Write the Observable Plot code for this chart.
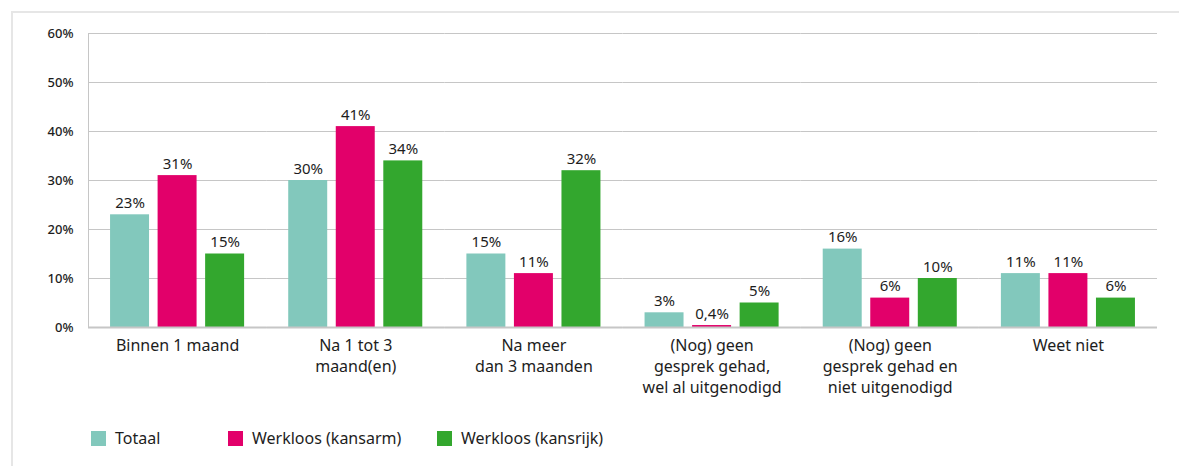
<!DOCTYPE html>
<html>
<head>
<meta charset="utf-8">
<script src="https://cdn.jsdelivr.net/npm/d3@7"></script>
<script src="https://cdn.jsdelivr.net/npm/@observablehq/plot@0.6"></script>
<style>
  html, body { margin: 0; padding: 0; background: #fff; }
  body { width: 1179px; height: 466px; position: relative; overflow: hidden; font-family: "Noto Sans", "Open Sans", sans-serif; color: #1d1d1d; }
  #border { position: absolute; left: 11px; top: 11px; width: 1170px; height: 460px; border-top: 2px solid #e6e6e6; border-left: 2px solid #e6e6e6; box-sizing: border-box; }
  #chart { position: absolute; left: 0; top: 0; }
  #legend { position: absolute; top: 428px; left: 91px; display: flex; font-size: 16px; line-height: 21px; }
  .item { display: flex; align-items: center; }
  .sw { width: 15px; height: 15px; margin-right: 9px; }
</style>
</head>
<body>
<div id="border"></div>
<div id="chart"></div>
<div id="legend"></div>
<script>
const categories = [
  "Binnen 1 maand",
  "Na 1 tot 3\nmaand(en)",
  "Na meer\ndan 3 maanden",
  "(Nog) geen\ngesprek gehad,\nwel al uitgenodigd",
  "(Nog) geen\ngesprek gehad en\nniet uitgenodigd",
  "Weet niet"
];
const series = ["Totaal", "Werkloos (kansarm)", "Werkloos (kansrijk)"];
const totaal   = [23, 30, 15, 3, 16, 11];
const kansarm  = [31, 41, 11, 0.4, 6, 11];
const kansrijk = [15, 34, 32, 5, 10, 6];
const yTicks = [0, 10, 20, 30, 40, 50, 60];
const colors = ["#82c8bc", "#e2006a", "#33a72e"];
const legendWidths = [137, 209, 200];

const seriesValues = [totaal, kansarm, kansrijk];
const data = [];
categories.forEach((c, i) => {
  series.forEach((s, j) => data.push({category: c, series: s, value: seriesValues[j][i]}));
});
const fmt = v => String(v).replace(".", ",") + "%";

const chart = Plot.plot({
  width: 1179,
  height: 400,
  marginLeft: 88,
  marginRight: 22,
  marginTop: 33,
  marginBottom: 73,
  style: {fontFamily: '"Noto Sans", "Open Sans", sans-serif', color: "#1d1d1d", background: "transparent"},
  fx: {domain: categories, padding: 0, round: false, label: null},
  x: {domain: series, paddingInner: 0.18, paddingOuter: 0.464, round: false, axis: null},
  y: {domain: [0, 60], axis: null},
  color: {domain: series, range: colors},
  marks: [
    Plot.gridY(yTicks, {stroke: "#c6c6c6", strokeOpacity: 1}),
    Plot.barY(data, {fx: "category", x: "series", y: "value", fill: "series"}),
    Plot.ruleY([0], {stroke: "#c6c6c6", strokeWidth: 2}),
    Plot.text(data, {fx: "category", x: "series", y: "value", text: d => fmt(d.value), lineAnchor: "bottom", dy: -7, fontSize: 15, fill: "#1d1d1d"}),
    Plot.axisY(yTicks, {tickSize: 0, tickPadding: 15, tickFormat: d => d + "%", fontSize: 13, fontWeight: 500, label: null}),
    Plot.axisFx({anchor: "bottom", tickSize: 0, tickPadding: 9, fontSize: 16, lineHeight: 1.31, label: null}),
    Plot.frame({anchor: "left", fx: [categories[0]], stroke: "#c6c6c6"})
  ]
});
document.getElementById("chart").appendChild(chart);

const legend = document.getElementById("legend");
series.forEach((s, i) => {
  const item = document.createElement("div");
  item.className = "item";
  item.style.width = legendWidths[i] + "px";
  const sw = document.createElement("span");
  sw.className = "sw";
  sw.style.background = colors[i];
  const t = document.createElement("span");
  t.textContent = s;
  item.appendChild(sw);
  item.appendChild(t);
  legend.appendChild(item);
});
</script>
</body>
</html>
